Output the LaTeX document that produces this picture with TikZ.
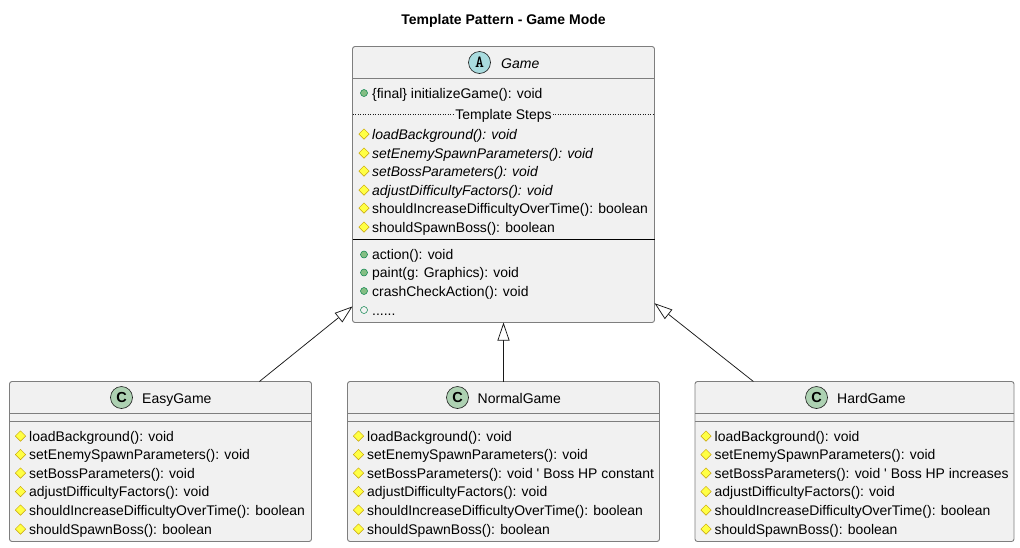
\documentclass[tikz,border=0pt]{standalone}
\usepackage{fontspec}
\setmainfont{Liberation Sans}
\usetikzlibrary{arrows.meta,positioning,shapes.geometric}
\definecolor{boxfill}{HTML}{F1F1F1}
\definecolor{boxline}{HTML}{7E7E7E}
\definecolor{spotline}{HTML}{181818}
\definecolor{spotclass}{HTML}{ADD1B2}
\definecolor{spotabstract}{HTML}{A9DCDF}
\definecolor{pubgreen}{HTML}{84BE84}
\definecolor{publine}{HTML}{038048}
\definecolor{protyellow}{HTML}{FFFF44}
\definecolor{protline}{HTML}{C4A000}
\tikzset{
  classbox/.style={draw=boxline,fill=boxfill,line width=.9pt,rounded corners=2.5pt,inner sep=0pt,outer sep=0pt},
  classname/.style={font=\fontsize{14}{16}\selectfont,anchor=base west,inner sep=0pt},
  member/.style={font=\fontsize{13.95}{16}\selectfont,anchor=base west,inner sep=0pt},
  spot/.style={circle,draw=spotline,line width=.6pt,minimum size=22pt,inner sep=0pt},
  pubicon/.style={circle,draw=publine,fill=pubgreen,line width=.5pt,minimum size=7pt,inner sep=0pt},
  openicon/.style={circle,draw=publine,fill=boxfill,line width=.5pt,minimum size=7pt,inner sep=0pt},
  proticon/.style={diamond,draw=protline,fill=protyellow,line width=.5pt,minimum size=10.5pt,inner sep=0pt},
  extends/.style={draw=spotline,line width=.75pt,-{Triangle[open,length=18pt,width=12pt,fill=white]}},
  sepline/.style={draw=boxline,line width=.9pt}
}
\begin{document}
\begin{tikzpicture}[x=1pt,y=-1pt]
  \useasboundingbox (0,0) rectangle (1020,547);

  \node[font=\fontsize{14}{16}\selectfont\bfseries] (title) at (503.5,20.5) {Template Pattern - Game Mode};

  % abstract class
  \node[classbox,minimum width=302pt,minimum height=276pt] (game) at (503.5,184.5) {};
  \node[spot,fill=spotabstract,font=\ttfamily\bfseries\fontsize{17}{17}\selectfont\addfontfeature{FakeBold=1.5}] (gameSpot) at (479.5,62.5) {A};
  \node[classname,font=\fontsize{14}{16}\selectfont\itshape] (gameName) at (501,68) {Game};
  \draw[sepline] (352.5,78.5)--(654.5,78.5);
  \draw[draw=spotline,line width=.5pt,dotted] (352.5,114.5)--(654.5,114.5);
  \node[fill=boxfill,inner sep=1pt,font=\fontsize{13.95}{16}\selectfont] (gameSteps) at (503.5,115.5) {Template Steps};
  \draw[draw=black,line width=.9pt] (352.5,239.5)--(654.5,239.5);

  \foreach \ypos/\txt [count=\i] in {93/\{final\} initializeGame(): void,254.5/action(): void,272.5/paint(g: Graphics): void,291/crashCheckAction(): void}{
    \node[pubicon] (gamePub\i) at (364,\ypos) {};
    \node[member] (gamePubText\i) at (372,\ypos+5) {\txt};
  }
  \node[openicon] (gameOpen) at (364,310) {};
  \node[member] (gameOpenText) at (372,315) {......};

  \foreach \ypos/\txt [count=\i] in {134/loadBackground(): void,153/setEnemySpawnParameters(): void,171/setBossParameters(): void,190/adjustDifficultyFactors(): void}{
    \node[proticon] (gameStep\i) at (364,\ypos) {};
    \node[member,font=\fontsize{13.95}{16}\selectfont\itshape] (gameStepText\i) at (372,\ypos+5) {\txt};
  }
  \foreach \ypos/\txt [count=\i] in {208/shouldIncreaseDifficultyOverTime(): boolean,227/shouldSpawnBoss(): boolean}{
    \node[proticon] (gameHook\i) at (364,\ypos) {};
    \node[member] (gameHookText\i) at (372,\ypos+5) {\txt};
  }

  % subclasses
  \node[classbox,minimum width=302pt,minimum height=160pt] (easy) at (160.5,461.5) {};
  \node[classbox,minimum width=312pt,minimum height=160pt] (normal) at (503.5,461.5) {};
  \node[classbox,minimum width=319pt,minimum height=160pt] (hard) at (854.5,461.5) {};

  \foreach \cname/\cleft/\cright/\spotx/\namex/\ctitle/\bossnote in {
      easy/9.5/311.5/121.5/142/EasyGame/,
      normal/347.5/659.5/457.5/477.5/NormalGame/ \textquotesingle{} Boss HP constant,
      hard/695/1014/816.5/837/HardGame/ \textquotesingle{} Boss HP increases}{
    \node[spot,fill=spotclass,font=\fontsize{14.5}{15}\selectfont\bfseries] (\cname Spot) at (\spotx,397.5) {C};
    \node[classname] (\cname Name) at (\namex,403) {\ctitle};
    \draw[sepline] (\cleft,413.5)--(\cright,413.5);
    \draw[sepline] (\cleft,421.5)--(\cright,421.5);
    \foreach \ypos/\txt [count=\i] in {436/loadBackground(): void,454.5/setEnemySpawnParameters(): void,473/setBossParameters(): void\bossnote,491.5/adjustDifficultyFactors(): void,510/shouldIncreaseDifficultyOverTime(): boolean,529/shouldSpawnBoss(): boolean}{
      \node[proticon] (\cname Icon\i) at (\cleft+11,\ypos) {};
      \node[member] (\cname Text\i) at (\cleft+19.5,\ypos+5) {\txt};
    }
  }

  \draw[extends] (easy)--(game);
  \draw[extends] (normal)--(game);
  \draw[extends] (hard)--(game);
\end{tikzpicture}
\end{document}
